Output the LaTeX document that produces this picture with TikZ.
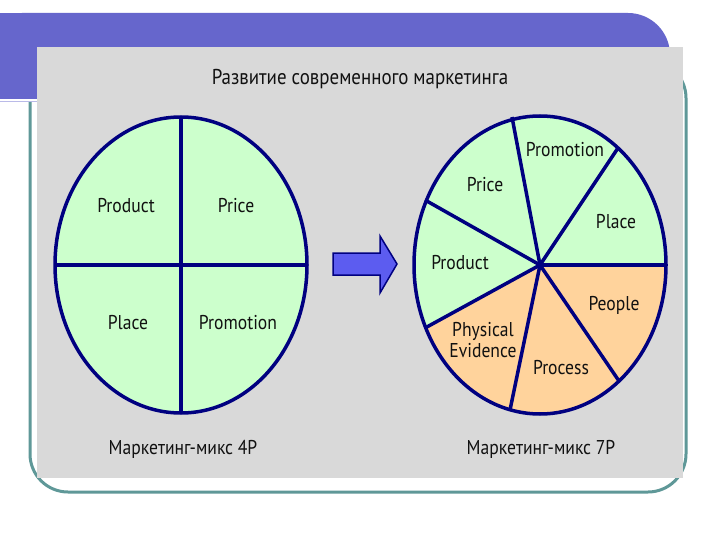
\documentclass[tikz,border=0pt]{standalone}
\usepackage{fontspec}
\setmainfont{PT Sans}[FakeStretch=0.88]
\definecolor{slideblue}{HTML}{6666CC}
\definecolor{frameteal}{HTML}{5F9898}
\definecolor{panelgray}{HTML}{D9D9D9}
\definecolor{pienavy}{HTML}{000080}
\definecolor{piegreen}{HTML}{CCFFCC}
\definecolor{pieorange}{HTML}{FFD39C}
\definecolor{arrowblue}{HTML}{5C5CF0}
\definecolor{labelink}{HTML}{111111}
\tikzset{
  pieline/.style = {draw=pienavy, line width=3.5pt},
  pielabel/.style = {font=\fontsize{20}{20}\selectfont, text=labelink, inner sep=0pt, align=center},
  caption/.style = {font=\fontsize{20}{20}\selectfont, text=labelink, inner sep=0pt}
}
\begin{document}
\begin{tikzpicture}[x=1pt, y=-1pt]
  \useasboundingbox (0,0) rectangle (720,540);
  %--- slide background ---
  \fill[white] (0,0) rectangle (720,540);
  \draw[frameteal, line width=3pt, rounded corners=38pt] (30,60) rectangle (686,492);
  \fill[slideblue, rounded corners=42pt] (-20,13) -- (670,13) -- (670,99) -- (-20,99) -- cycle;
  \fill[slideblue] (-20,13) rectangle (40,99);
  \draw[white, line width=1.5pt] (0,100) -- (40,100);
  \draw[slideblue!45, line width=1pt] (0,102) -- (40,102);
  \fill[panelgray] (37,47) rectangle (683,478);

  %--- title and captions ---
  \node[caption, font=\fontsize{21.5}{21.5}\selectfont] (title) at (360,79) {Развитие современного маркетинга};
  \node[caption] (cap4) at (183,449) {Маркетинг-микс 4P};
  \node[caption] (cap7) at (541,449) {Маркетинг-микс 7P};

  %--- 4P pie ---
  \coordinate (c4) at (181,265);
  \coordinate (n4) at (181,117);
  \coordinate (s4) at (181,413);
  \coordinate (w4) at (55,265);
  \coordinate (e4) at (307,265);
  \fill[piegreen] (c4) ellipse [x radius=126pt, y radius=148pt];
  \draw[pieline] (n4) -- (s4);
  \draw[pieline] (w4) -- (e4);
  \draw[pieline] (c4) ellipse [x radius=126pt, y radius=148pt];
  \node[pielabel] (product4)   at (126,206) {Product};
  \node[pielabel] (price4)     at (236,206) {Price};
  \node[pielabel] (place4)     at (128,323) {Place};
  \node[pielabel] (promotion4) at (238,323) {Promotion};

  %--- arrow between the pies ---
  \draw[pienavy, fill=arrowblue, line width=1.5pt, line join=miter]
    (333,253) -- (380,253) -- (380,236) -- (397,264) -- (380,293)
    -- (380,275) -- (333,275) -- cycle;

  %--- 7P pie ---
  \coordinate (c7) at (540,265);
  \coordinate (r1) at (666,265);
  \coordinate (r2) at (618,148);
  \coordinate (r3) at (512,117);
  \coordinate (r4) at (425,200);
  \coordinate (r5) at (425,328);
  \coordinate (r6) at (510,410);
  \coordinate (r7) at (619,381);
  \fill[piegreen] (c7) ellipse [x radius=126pt, y radius=149pt];
  \begin{scope}
    \clip (c7) ellipse [x radius=126pt, y radius=149pt];
    \fill[pieorange] (c7) -- (310,391) -- (310,520) -- (700,520) -- (700,265) -- cycle;
  \end{scope}
  \foreach \r in {r1,r2,r3,r4,r5,r6,r7}
    \draw[pieline] (c7) -- (\r);
  \draw[pieline] (c7) ellipse [x radius=126pt, y radius=149pt];
  \node[pielabel] (promotion7) at (565,150) {Promotion};
  \node[pielabel] (price7)     at (485,185) {Price};
  \node[pielabel] (place7)     at (616,222) {Place};
  \node[pielabel] (product7)   at (460,263) {Product};
  \node[pielabel] (people7)    at (614,305) {People};
  \node[pielabel] (physical7)  at (483,340) {Physical\\[1pt]Evidence};
  \node[pielabel] (process7)   at (561,368) {Process};
\end{tikzpicture}
\end{document}
